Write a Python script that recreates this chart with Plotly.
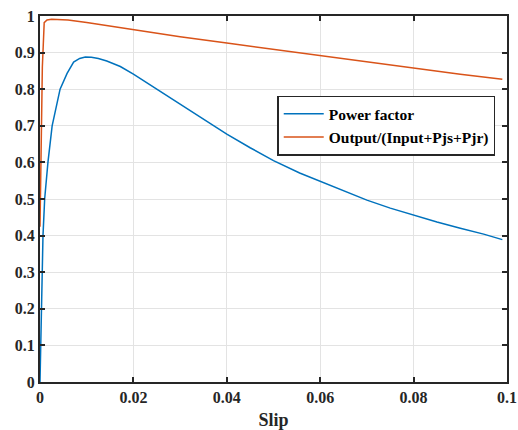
import plotly.graph_objects as go

slip_pf = [0.0, 0.00036, 0.00064, 0.001, 0.0017, 0.0026, 0.0043, 0.0058, 0.0072, 0.0085, 0.0097,
           0.011, 0.0125, 0.0143, 0.0172, 0.02, 0.025, 0.03, 0.035, 0.04, 0.045, 0.05,
           0.0556, 0.06, 0.065, 0.07, 0.075, 0.08, 0.085, 0.09, 0.095, 0.099]
power_factor = [0.0, 0.2, 0.4, 0.5, 0.6, 0.7, 0.8, 0.843, 0.874, 0.884, 0.888,
                0.887, 0.884, 0.877, 0.862, 0.841, 0.8, 0.76, 0.72, 0.677, 0.64, 0.605,
                0.571, 0.549, 0.522, 0.497, 0.475, 0.455, 0.437, 0.42, 0.404, 0.389]

slip_eff = [0.0, 0.0002, 0.0005, 0.0009, 0.0015, 0.0025, 0.004, 0.006, 0.01, 0.02, 0.03,
            0.04, 0.05, 0.06, 0.07, 0.08, 0.09, 0.099]
efficiency = [0.424, 0.62, 0.86, 0.982, 0.989, 0.991, 0.991, 0.989, 0.982, 0.962, 0.943,
              0.926, 0.909, 0.891, 0.874, 0.857, 0.841, 0.827]

x_ticks = [0, 0.02, 0.04, 0.06, 0.08, 0.1]
x_labels = ["0", "0.02", "0.04", "0.06", "0.08", "0.1"]
y_ticks = [0, 0.1, 0.2, 0.3, 0.4, 0.5, 0.6, 0.7, 0.8, 0.9, 1]
y_labels = ["0", "0.1", "0.2", "0.3", "0.4", "0.5", "0.6", "0.7", "0.8", "0.9", "1"]

def bold(s):
    return f"<b>{s}</b>"

fig = go.Figure()
fig.add_trace(go.Scatter(x=slip_pf, y=power_factor, mode="lines", name=bold("Power factor"),
                         line=dict(color="#0072BD", width=1.5)))
fig.add_trace(go.Scatter(x=slip_eff, y=efficiency, mode="lines", name=bold("Output/(Input+Pjs+Pjr)"),
                         line=dict(color="#D95319", width=1.5)))

font = "Liberation Serif"
axis_common = dict(
    showgrid=True, gridcolor="#e3e3e3", gridwidth=1,
    showline=True, linecolor="#262626", linewidth=2, mirror="ticks",
    ticks="inside", ticklen=5, tickwidth=2, tickcolor="#262626",
    zeroline=False, automargin=False,
    tickfont=dict(family=font, size=16, color="#262626"),
)

fig.update_layout(
    width=518, height=430,
    font=dict(family=font, color="#262626"),
    margin=dict(l=40, r=11, t=16, b=48),
    paper_bgcolor="white", plot_bgcolor="white",
    xaxis=dict(range=[0, 0.1], tickvals=x_ticks, ticktext=[bold(t) for t in x_labels],
               title=dict(text=bold("Slip"), font=dict(family=font, size=18, color="#262626"), standoff=10),
               **axis_common),
    yaxis=dict(range=[0, 1], tickvals=y_ticks, ticktext=[bold(t) for t in y_labels], **axis_common),
    legend=dict(x=0.508, y=0.782, xanchor="left", yanchor="top",
                bordercolor="#262626", borderwidth=1.5, bgcolor="white",
                font=dict(family=font, size=15.5, color="black"),
                tracegroupgap=0, itemwidth=40),
    showlegend=True,
)

fig.write_html("out.html")
